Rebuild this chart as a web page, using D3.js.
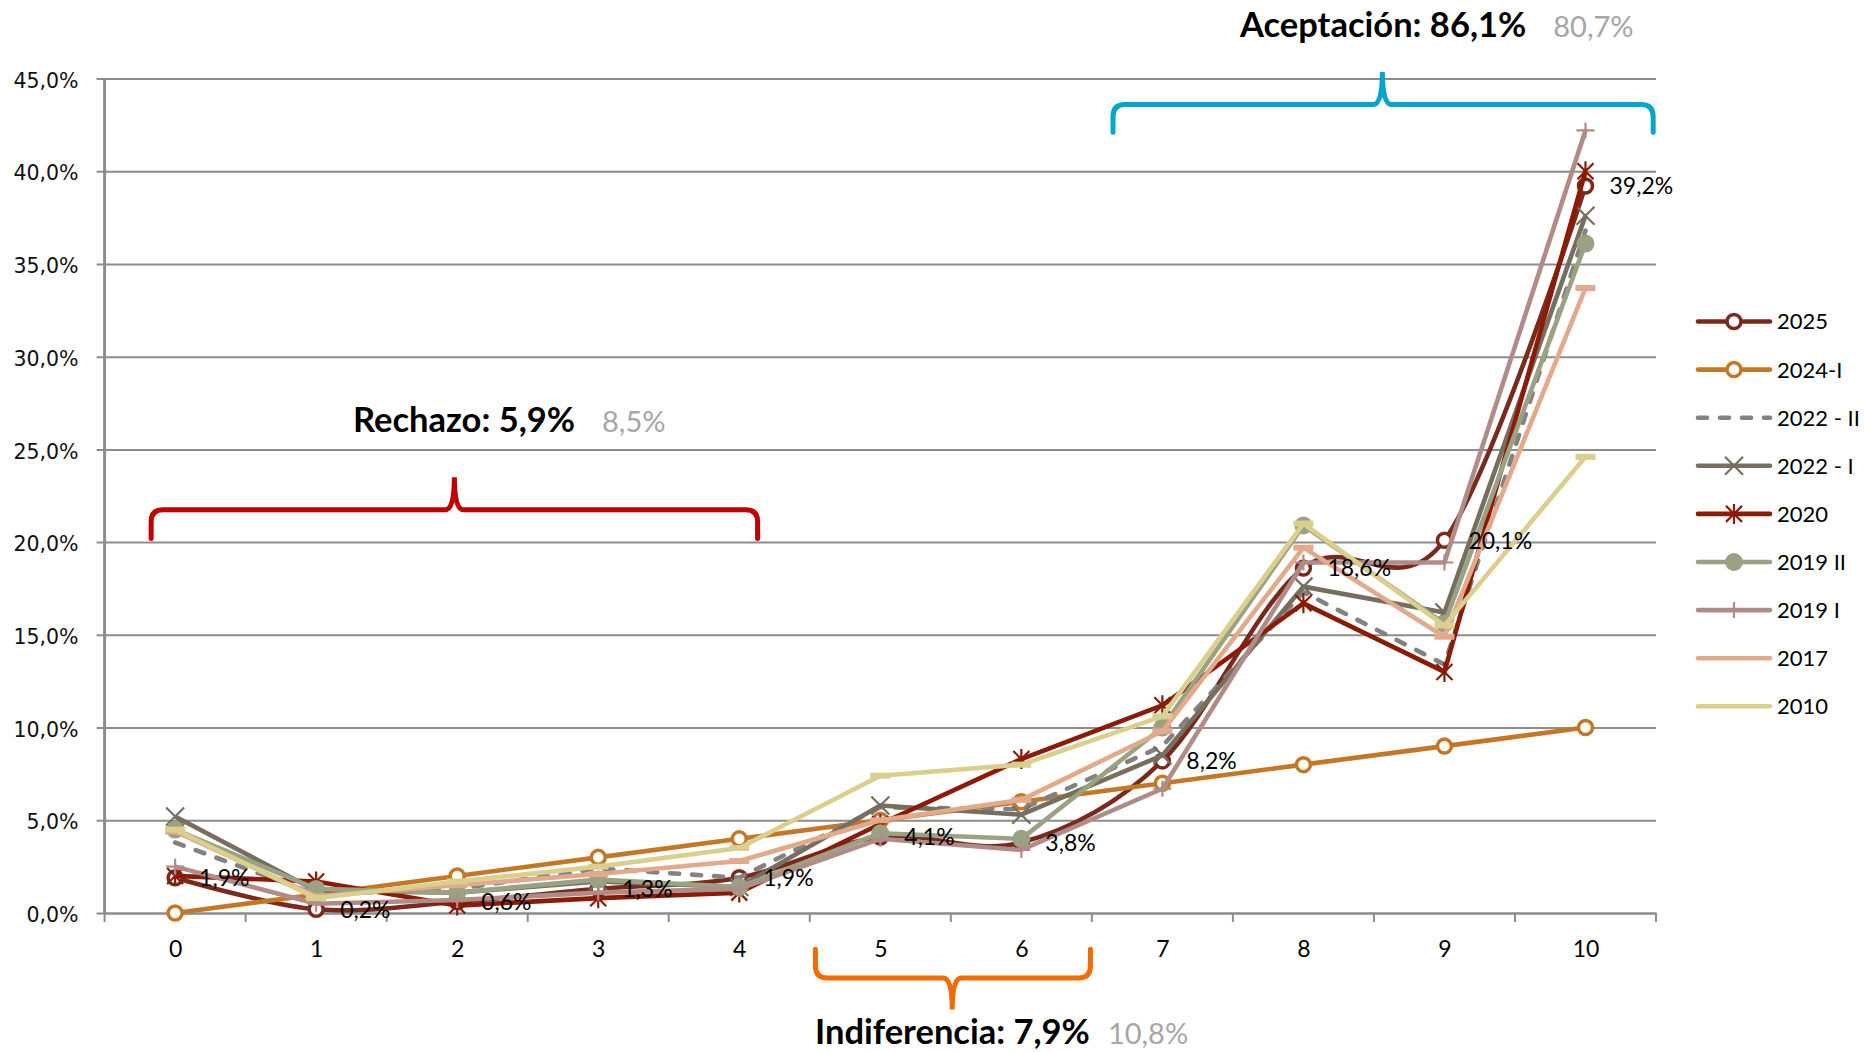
<!DOCTYPE html>
<html>
<head>
<meta charset="utf-8">
<script src="https://cdn.jsdelivr.net/npm/d3@7"></script>
<style>
  body { margin: 0; background: #fff; }
  svg { display: block; font-family: Lato, sans-serif; }
</style>
</head>
<body>
<div class="chart"></div>
<script>
var svgWidth = 1864;
var svgHeight = 1052;

// chart data
var categories = [0, 1, 2, 3, 4, 5, 6, 7, 8, 9, 10];
var yTicks = [0, 5, 10, 15, 20, 25, 30, 35, 40, 45];
var seriesNames = ["2025", "2024-I", "2022 - II", "2022 - I", "2020", "2019 II", "2019 I", "2017", "2010"];
var v2025   = [1.9, 0.2, 0.6, 1.3, 1.9, 4.1, 3.8, 8.2, 18.6, 20.1, 39.2];
var v2024I  = [0, 1, 2, 3, 4, 5, 6, 7, 8, 9, 10];
var v2022II = [3.8, 1.0, 1.3, 2.4, 1.9, 5.7, 5.6, 9.0, 17.3, 13.4, 36.8];
var v2022I  = [5.2, 1.2, 1.1, 1.7, 1.4, 5.8, 5.3, 8.5, 17.6, 16.2, 37.6];
var v2020   = [2.0, 1.7, 0.4, 0.8, 1.1, 4.8, 8.3, 11.2, 16.7, 13.0, 40.0];
var v2019II = [4.5, 1.3, 1.1, 1.8, 1.4, 4.3, 4.0, 10.0, 20.9, 15.6, 36.1];
var v2019I  = [2.5, 0.5, 0.7, 1.1, 1.3, 4.0, 3.4, 6.7, 18.9, 18.9, 42.2];
var v2017   = [4.4, 0.9, 1.5, 2.1, 2.8, 5.0, 6.1, 9.8, 19.7, 14.9, 33.7];
var v2010   = [4.5, 0.8, 1.7, 2.5, 3.5, 7.4, 8.0, 10.6, 21.0, 15.5, 24.6];
var groupTitles = ["Rechazo: 5,9%", "Indiferencia: 7,9%", "Aceptación: 86,1%"];
var groupPrevious = ["8,5%", "10,8%", "80,7%"];

// look of each series (same order as seriesNames)
var seriesValues = [v2025, v2024I, v2022II, v2022I, v2020, v2019II, v2019I, v2017, v2010];
var seriesColors = ["#7a2a1c", "#c47826", "#828282", "#766f5f", "#8b1a06", "#99a283", "#b08c88", "#e2aa8a", "#dacf8c"];
var seriesMarkers = ["circleOpen", "circleOpen", "none", "x", "star", "circle", "plus", "dash", "dash"];

var margin = { top: 78.5, right: 208, bottom: 139, left: 104.6 };
var width = svgWidth - margin.left - margin.right;
var height = svgHeight - margin.top - margin.bottom;

var locale = d3.formatLocale({ decimal: ",", thousands: ".", grouping: [3], currency: ["", "€"] });
var pct = locale.format(".1f");

var svg = d3.select(".chart")
  .append("svg")
  .attr("width", svgWidth)
  .attr("height", svgHeight);

var chart = svg.append("g")
  .attr("transform", "translate(" + margin.left + "," + margin.top + ")");

var xScale = d3.scaleLinear().domain([-0.5, 10.5]).range([0, width]);
var yScale = d3.scaleLinear().domain([0, 45]).range([height, 0]);

// gridlines + y labels
var leftAxis = d3.axisLeft(yScale)
  .tickValues(yTicks)
  .tickSize(-(width + 8))
  .tickPadding(18)
  .tickFormat(function(d) { return pct(d) + "%"; });

var yAxisG = chart.append("g")
  .attr("transform", "translate(-8,0)")
  .call(leftAxis);
yAxisG.select(".domain").remove();
yAxisG.selectAll("line").attr("stroke", "#8c8c8c").attr("stroke-width", 2);
yAxisG.selectAll("text")
  .attr("font-family", "'DejaVu Sans', Verdana, sans-serif")
  .attr("font-size", 20.5)
  .attr("fill", "#111")
  .attr("dy", "0.42em");

// y axis line
chart.append("line")
  .attr("x1", 0).attr("x2", 0)
  .attr("y1", 0).attr("y2", height)
  .attr("stroke", "#8c8c8c").attr("stroke-width", 3);

// x axis: labels at categories, ticks between them
var bottomAxis = d3.axisBottom(xScale)
  .tickValues(categories)
  .tickSize(0)
  .tickPadding(28);
var xAxisG = chart.append("g")
  .attr("transform", "translate(0," + height + ")")
  .call(bottomAxis);
xAxisG.select(".domain").attr("stroke", "#8c8c8c").attr("stroke-width", 2);
xAxisG.selectAll("text")
  .attr("font-family", "Lato, sans-serif")
  .attr("font-size", 23)
  .attr("fill", "#000");

xAxisG.selectAll(".sep")
  .data(d3.range(-0.5, 11, 1))
  .enter()
  .append("line")
  .attr("class", "sep")
  .attr("x1", function(d) { return xScale(d); })
  .attr("x2", function(d) { return xScale(d); })
  .attr("y1", 0).attr("y2", 9)
  .attr("stroke", "#8c8c8c").attr("stroke-width", 2);

// braces
function bracePath(x0, x1, xp, yEnd, yH, yPeak) {
  var dir = yH < yEnd ? 1 : -1; // ends go down from the bar (1) or up (-1)
  var r = 12, r2 = 9;
  return "M" + x0 + "," + yEnd +
    "L" + x0 + "," + (yH + dir * r) +
    "Q" + x0 + "," + yH + " " + (x0 + r) + "," + yH +
    "L" + (xp - r2) + "," + yH +
    "Q" + xp + "," + yH + " " + xp + "," + yPeak +
    "Q" + xp + "," + yH + " " + (xp + r2) + "," + yH +
    "L" + (x1 - r) + "," + yH +
    "Q" + x1 + "," + yH + " " + x1 + "," + (yH + dir * r) +
    "L" + x1 + "," + yEnd;
}

var braces = [
  { a: -0.17, b: 4.13, p: 1.98, end: 20.2, bar: 21.75, peak: 23.5, color: "#c00000" },
  { a: 4.54, b: 6.49, p: 5.51, end: -1.95, bar: -3.5, peak: -5.2, color: "#f46b00" },
  { a: 6.65, b: 10.48, p: 8.56, end: 42.1, bar: 43.6, peak: 45.35, color: "#06a5cc" }
];

chart.selectAll(".brace")
  .data(braces)
  .enter()
  .append("path")
  .attr("class", "brace")
  .attr("d", function(d) {
    return bracePath(xScale(d.a), xScale(d.b), xScale(d.p), yScale(d.end), yScale(d.bar), yScale(d.peak));
  })
  .attr("fill", "none")
  .attr("stroke", function(d) { return d.color; })
  .attr("stroke-width", 5)
  .attr("stroke-linecap", "round");

// marker shapes
function drawMarker(g, type, color) {
  if (type === "circleOpen") {
    g.append("circle").attr("r", 7).attr("fill", "#fff").attr("stroke", color).attr("stroke-width", 3.5);
  } else if (type === "circle") {
    g.append("circle").attr("r", 9).attr("fill", color);
  } else if (type === "x") {
    g.append("path").attr("d", "M-9,-9L9,9M-9,9L9,-9").attr("stroke", color).attr("stroke-width", 2.2);
  } else if (type === "star") {
    g.append("path").attr("d", "M-8,-8L8,8M-8,8L8,-8M0,-10L0,10").attr("stroke", color).attr("stroke-width", 2.2);
  } else if (type === "plus") {
    g.append("path").attr("d", "M-9,0L9,0M0,-8L0,8").attr("stroke", color).attr("stroke-width", 2.2);
  } else if (type === "dash") {
    g.append("rect").attr("x", -10).attr("y", -3).attr("width", 20).attr("height", 6).attr("fill", color);
  }
}

var straight = d3.line()
  .x(function(d, i) { return xScale(categories[i]); })
  .y(function(d) { return yScale(d); });
var smooth = d3.line()
  .x(function(d, i) { return xScale(categories[i]); })
  .y(function(d) { return yScale(d); })
  .curve(d3.curveCatmullRom.alpha(0));

seriesNames.forEach(function(name, s) {
  var color = seriesColors[s];
  var g = chart.append("g").attr("class", "series");
  g.append("path")
    .attr("d", (s === 0 ? smooth : straight)(seriesValues[s]))
    .attr("fill", "none")
    .attr("stroke", color)
    .attr("stroke-width", 4.6)
    .attr("stroke-linejoin", "round")
    .attr("stroke-linecap", s === 2 ? "round" : "butt")
    .attr("stroke-dasharray", s === 2 ? "9 13" : null);

  g.selectAll(".mk")
    .data(seriesValues[s])
    .enter()
    .append("g")
    .attr("class", "mk")
    .attr("transform", function(d, i) { return "translate(" + xScale(categories[i]) + "," + yScale(d) + ")"; })
    .each(function() { drawMarker(d3.select(this), seriesMarkers[s], color); });
});

// data labels for 2025
chart.selectAll(".dlabel")
  .data(v2025)
  .enter()
  .append("text")
  .attr("class", "dlabel")
  .attr("x", function(d, i) { return xScale(categories[i]) + 24; })
  .attr("y", function(d) { return yScale(d); })
  .attr("dy", "0.36em")
  .attr("font-size", 23)
  .attr("fill", "#000")
  .text(function(d) { return pct(d) + "%"; });

// group titles
var titlePos = [
  { x: 353, y: 432 },
  { x: 815, y: 1044 },
  { x: 1240, y: 37 }
];
groupTitles.forEach(function(t, i) {
  var txt = svg.append("text")
    .attr("x", titlePos[i].x)
    .attr("y", titlePos[i].y);
  txt.append("tspan")
    .attr("font-weight", "bold")
    .attr("font-size", 34.5)
    .attr("fill", "#000")
    .text(t);
  txt.append("tspan")
    .attr("dx", i === 1 ? 18 : 27)
    .attr("font-size", 29)
    .attr("fill", "#a6a6a6")
    .text(groupPrevious[i]);
});

// legend
var legend = svg.append("g").attr("transform", "translate(1698,321.5)");
seriesNames.forEach(function(name, s) {
  var row = legend.append("g").attr("transform", "translate(0," + (s * 48.1) + ")");
  row.append("line")
    .attr("x1", 0).attr("x2", 72)
    .attr("stroke", seriesColors[s])
    .attr("stroke-width", 4.6)
    .attr("stroke-linecap", "round")
    .attr("stroke-dasharray", s === 2 ? "9 13" : null);
  if (seriesMarkers[s] !== "dash") {
    drawMarker(row.append("g").attr("transform", "translate(36,0)"), seriesMarkers[s], seriesColors[s]);
  }
  row.append("text")
    .attr("x", 79)
    .attr("dy", "0.36em")
    .attr("font-size", 22)
    .attr("fill", "#000")
    .text(name);
});
</script>
</body>
</html>
